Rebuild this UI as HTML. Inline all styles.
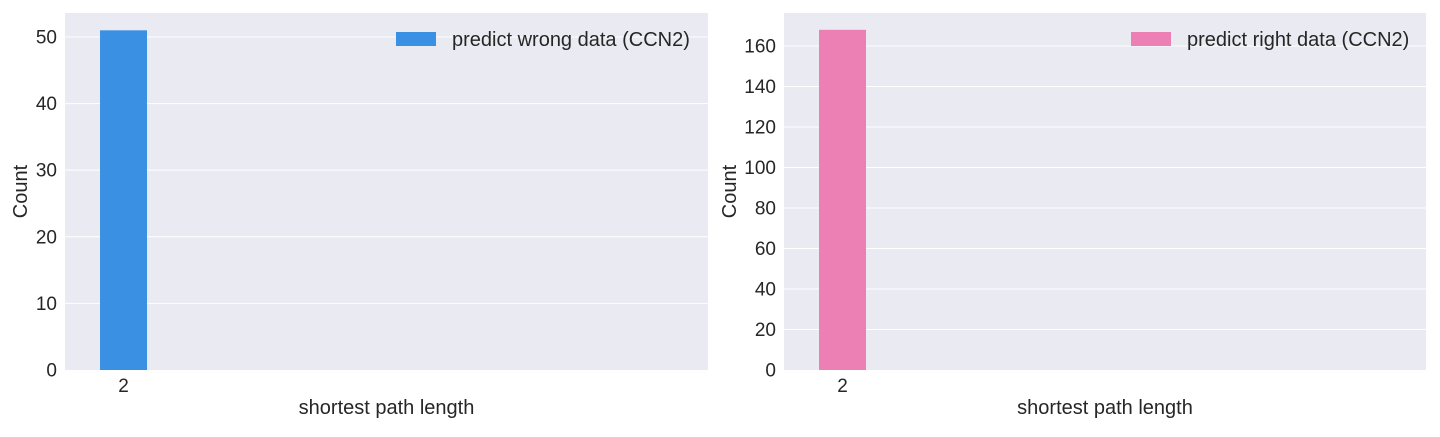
<!DOCTYPE html>
<html><head><meta charset="utf-8"><style>
body{margin:0;background:#fff;font-family:"Liberation Sans",Arial,sans-serif}
svg text{font-family:"Liberation Sans",Arial,sans-serif;fill:#262626}
</style></head><body>
<svg id="c" width="1440" height="432"></svg>
<script>
const categories=[2];
const wrongValues=[51];
const rightValues=[168];
const leftTicks=[0,10,20,30,40,50];
const rightTicks=[0,20,40,60,80,100,120,140,160];
const svg=document.getElementById('c');
const NS='http://www.w3.org/2000/svg';
function mk(t,a,p){const e=document.createElementNS(NS,t);for(const k in a)e.setAttribute(k,a[k]);(p||svg).appendChild(e);return e;}
function panel(name,x0,x1,yTop,yBot,ymax,ticks,vals,color,legend,legX,ylabX){
  const g=mk('g',{});
  
  
  const bg=mk('rect',{x:x0,y:yTop,width:x1-x0,height:yBot-yTop,fill:'#eaeaf2'},g);
  
  
  const ys=v=>yBot-(v/ymax)*(yBot-yTop);
  const ppu=235, xmin=1.751;
  const xs=v=>x0+(v-xmin)*ppu;
  ticks.forEach(t=>{
    if(t>0){const l=mk('line',{x1:x0,x2:x1,y1:ys(t),y2:ys(t),stroke:'#fff','stroke-width':1},g);
    }
    const tx=mk('text',{x:x0-8,y:ys(t)+6.5,'text-anchor':'end','font-size':19},g);tx.textContent=t;
    
  });
  categories.forEach((c,i)=>{
    const w=0.2*ppu;
    const r=mk('rect',{x:xs(c)-w/2,y:ys(vals[i]),width:w,height:yBot-ys(vals[i]),fill:color},g);
    
    const tx=mk('text',{x:xs(c),y:yBot+22,'text-anchor':'middle','font-size':19},g);tx.textContent=c;
    
  });
  const xl=mk('text',{x:(x0+x1)/2,y:414,'text-anchor':'middle','font-size':20},g);xl.textContent='shortest path length';
  
  const yl=mk('text',{x:0,y:0,'text-anchor':'middle','font-size':20,transform:`translate(${ylabX},${(yTop+yBot)/2}) rotate(-90)`},g);yl.textContent='Count';
  
  const lg=mk('g',{},g);
  
  mk('rect',{x:legX-56,y:32,width:40,height:14,fill:color},lg);
  const lt=mk('text',{x:legX,y:46,'font-size':20},lg);lt.textContent=legend;
}
panel('left-panel',65,708,13,370,53.6,leftTicks,wrongValues,'#3a90e3','predict wrong data (CCN2)',452,27);
panel('right-panel',784,1426,13,370,176.3,rightTicks,rightValues,'#ec7fb4','predict right data (CCN2)',1187,736);
</script>
</body></html>
